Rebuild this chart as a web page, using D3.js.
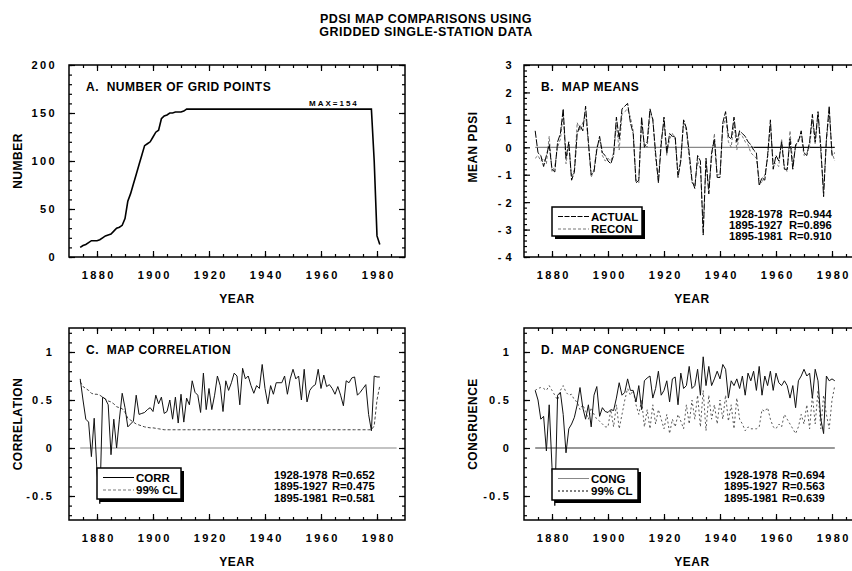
<!DOCTYPE html>
<html><head><meta charset="utf-8">
<script src="https://cdn.jsdelivr.net/npm/d3@7"></script>
<style>
body{margin:0;background:#fff}
svg{display:block}
text{font-family:"Liberation Sans",Arial,Helvetica,sans-serif;font-weight:bold;fill:#000}
</style>
</head><body>
<svg id="c" width="852" height="571"></svg>
<script>
// ---------- DATA ----------
const years = d3.range(1874, 1982); // 1874..1981
const titleLines = ["PDSI MAP COMPARISONS USING", "GRIDDED SINGLE-STATION DATA"];

// A. number of grid points (1874..1981)
const gridPoints = [10,12,13,15,17,17,17,18,20,22,23,24,27,30,31,33,40,58,66,76,86,96,106,116,118,120,125,130,132,144,147,148,150,150,151,151,151,152,154,
154,154,154,154,154,154,154,154,154,154,154,
154,154,154,154,154,154,154,154,154,154,154,
154,154,154,154,154,154,154,154,154,154,154,
154,154,154,154,154,154,154,154,154,154,154,
154,154,154,154,154,154,154,154,154,154,154,
154,154,154,154,154,154,154,154,154,154,154,
100,22,13];

// B. map means
const meanActual = [0.6,-0.2,-0.3,-0.7,-0.3,0.1,-0.8,-0.9,0.2,0.5,1.4,-0.4,0.2,-1.2,-0.9,0.5,0.8,0.6,1.5,0.2,-1.0,-0.9,-0.1,0.4,-0.2,-0.3,-0.5,-0.6,-0.3,1.1,0.3,1.4,1.5,1.6,0.9,0.5,-1.3,-1.2,1.1,0.0,0.2,1.4,1.0,-0.2,-1.3,0.1,1.1,-0.2,0.5,0.4,0.4,-1.1,-0.5,1.0,0.7,-0.2,-1.2,-1.5,-0.3,-0.5,-3.2,-0.4,-1.7,-0.2,0.3,-1.1,-1.1,0.9,1.3,0.4,0.3,1.1,0.2,0.6,0.5,0.4,0.2,0.1,-0.1,-0.2,-1.4,-1.1,-1.2,-0.3,1.0,-0.8,-0.3,-0.5,0.2,-0.8,-0.8,0.3,-0.8,0.1,0.2,0.6,-0.2,-0.3,0.2,1.2,0.2,1.3,0.0,-1.8,0.3,1.5,-0.3,-0.2];
const meanRecon = [-0.4,-0.3,-0.5,-0.4,-0.6,0.4,-0.9,-0.7,0.0,0.3,1.2,-0.6,0.1,-1.1,-0.8,0.9,0.6,0.9,1.2,0.1,-1.1,-0.8,0.0,0.3,-0.3,-0.5,-0.4,-0.5,-0.2,0.8,-0.1,1.2,1.3,1.4,1.1,0.6,-1.2,-1.3,0.9,0.1,0.0,1.2,1.1,-0.4,-1.2,0.3,0.9,-0.3,0.3,0.5,0.3,-1.0,-0.4,0.9,0.6,-0.4,-1.3,-1.4,-0.5,-0.8,-2.9,-0.6,-1.5,-0.4,0.5,-1.0,-1.0,0.7,1.1,0.2,0.0,0.9,-0.1,0.5,0.4,0.2,0.1,-0.2,-0.3,-0.4,-1.2,-1.3,-1.0,-0.4,0.8,-0.6,-0.6,-0.7,0.3,-0.7,-0.9,0.6,-0.6,0.0,0.3,0.4,-0.3,-0.2,0.0,1.0,0.1,1.2,-0.2,-1.5,0.2,1.3,-0.2,-0.5];
const statsB = [["1928-1978","R=0.944"],["1895-1927","R=0.896"],["1895-1981","R=0.910"]];

// C. map correlation
const corr = [0.72,0.50,0.30,0.27,-0.09,0.31,-0.25,-0.58,0.53,0.51,0.45,-0.07,0.30,0.00,0.30,0.57,0.42,0.22,0.25,0.28,0.55,0.35,0.36,0.37,0.40,0.42,0.38,0.55,0.46,0.53,0.36,0.38,0.50,0.30,0.53,0.26,0.56,0.27,0.52,0.45,0.70,0.58,0.55,0.37,0.78,0.40,0.62,0.40,0.55,0.75,0.65,0.38,0.70,0.60,0.68,0.78,0.75,0.45,0.83,0.72,0.75,0.65,0.57,0.65,0.62,0.87,0.62,0.46,0.65,0.56,0.68,0.68,0.68,0.75,0.56,0.72,0.82,0.72,0.75,0.50,0.82,0.48,0.60,0.64,0.66,0.82,0.62,0.76,0.64,0.66,0.62,0.56,0.64,0.55,0.44,0.70,0.68,0.73,0.74,0.55,0.58,0.62,0.66,0.35,0.18,0.75,0.74,0.74];
const corrCL = [0.69,0.64,0.62,0.60,0.57,0.56,0.56,0.55,0.53,0.51,0.49,0.48,0.46,0.43,0.42,0.41,0.37,0.31,0.29,0.27,0.25,0.24,0.23,0.22,0.215,0.21,0.21,0.205,0.20,0.195,0.19,0.19,0.19,0.19,0.19,0.19,0.19,0.19,0.19,0.19,0.19,0.19,0.19,0.19,0.19,0.19,0.19,0.19,0.19,0.19,0.19,0.19,0.19,0.19,0.19,0.19,0.19,0.19,0.19,0.19,0.19,0.19,0.19,0.19,0.19,0.19,0.19,0.19,0.19,0.19,0.19,0.19,0.19,0.19,0.19,0.19,0.19,0.19,0.19,0.19,0.19,0.19,0.19,0.19,0.19,0.19,0.19,0.19,0.19,0.19,0.19,0.19,0.19,0.19,0.19,0.19,0.19,0.19,0.19,0.19,0.19,0.19,0.19,0.19,0.19,0.23,0.50,0.65];
const statsC = [["1928-1978","R=0.652"],["1895-1927","R=0.475"],["1895-1981","R=0.581"]];

// D. map congruence
const cong = [0.60,0.50,0.30,0.33,-0.03,0.45,-0.20,-0.60,0.55,0.58,0.35,-0.05,0.20,0.25,0.32,0.45,0.63,0.42,0.30,0.45,0.22,0.55,0.64,0.33,0.42,0.38,0.37,0.40,0.39,0.52,0.68,0.55,0.58,0.72,0.60,0.60,0.48,0.65,0.40,0.70,0.73,0.75,0.52,0.62,0.80,0.55,0.60,0.70,0.48,0.72,0.74,0.45,0.78,0.62,0.65,0.85,0.62,0.65,0.82,0.55,0.95,0.65,0.85,0.65,0.72,0.80,0.72,0.87,0.82,0.52,0.70,0.65,0.72,0.62,0.75,0.55,0.78,0.70,0.80,0.60,0.85,0.55,0.75,0.65,0.80,0.60,0.78,0.68,0.65,0.70,0.65,0.52,0.65,0.42,0.70,0.75,0.82,0.75,0.78,0.52,0.82,0.70,0.30,0.15,0.75,0.70,0.72,0.70];
const congCL = [0.60,0.62,0.63,0.62,0.60,0.65,0.60,0.55,0.50,0.60,0.65,0.58,0.55,0.56,0.50,0.48,0.40,0.45,0.38,0.30,0.42,0.35,0.30,0.28,0.25,0.22,0.22,0.40,0.22,0.45,0.20,0.35,0.50,0.62,0.55,0.60,0.45,0.35,0.50,0.22,0.40,0.20,0.45,0.25,0.40,0.30,0.20,0.35,0.15,0.30,0.22,0.35,0.28,0.20,0.45,0.25,0.50,0.30,0.55,0.22,0.60,0.18,0.55,0.30,0.45,0.25,0.50,0.30,0.55,0.28,0.45,0.20,0.52,0.30,0.25,0.18,0.22,0.20,0.20,0.20,0.22,0.40,0.38,0.42,0.30,0.22,0.20,0.25,0.22,0.35,0.30,0.25,0.20,0.15,0.22,0.35,0.25,0.45,0.20,0.55,0.25,0.60,0.20,0.55,0.35,0.20,0.50,0.65];
const statsD = [["1928-1978","R=0.694"],["1895-1927","R=0.563"],["1895-1981","R=0.639"]];

// ---------- DRAW ----------
const svg = d3.select("#c");
svg.append("rect").attr("width",852).attr("height",571).attr("fill","#fff");

svg.selectAll("text.title").data(titleLines).enter().append("text")
  .attr("class","title")
  .attr("x",426).attr("y",(d,i)=>22.5+i*13).attr("text-anchor","middle")
  .attr("font-size",12.5).attr("letter-spacing",0.45).text(d=>d);

function panel(o){
  const g = svg.append("g");
  const x = d3.scaleLinear().domain([1870,1990]).range([o.left,o.left+336]);
  const y = d3.scaleLinear().domain(o.yDomain).range([o.bottom,o.top]);
  const xr = x.range(), yr = y.range();
  const cid = "clip"+o.id;
  svg.append("clipPath").attr("id",cid).append("rect")
    .attr("x",xr[0]).attr("y",yr[1]).attr("width",xr[1]-xr[0]).attr("height",yr[0]-yr[1]);

  const minorX = d3.range(1875,1990,5), majorX = d3.range(1880,1990,20);
  const addAxis = (axis, tf) => {
    const a = g.append("g").attr("transform",tf).call(axis);
    a.select(".domain").remove();
    a.selectAll(".tick line").attr("stroke","#000").attr("stroke-width",1.2);
    return a;
  };
  addAxis(d3.axisBottom(x).tickValues(minorX).tickSize(-3).tickFormat(""),`translate(0,${o.bottom})`);
  addAxis(d3.axisTop(x).tickValues(minorX).tickSize(-3).tickFormat(""),`translate(0,${o.top})`);
  addAxis(d3.axisTop(x).tickValues(majorX).tickSize(-6).tickFormat(""),`translate(0,${o.top})`);
  const bx = addAxis(d3.axisBottom(x).tickValues(majorX).tickSize(-6).tickPadding(14).tickFormat(d3.format("d")),`translate(0,${o.bottom})`);
  bx.selectAll("text").attr("font-size",11).attr("letter-spacing",2.4).attr("dx",1.2)
    .attr("font-family",'"Liberation Sans",Arial,sans-serif').attr("font-weight","bold").attr("fill","#000");

  addAxis(d3.axisLeft(y).tickValues(o.yMinor).tickSize(-3).tickFormat(""),`translate(${o.left},0)`);
  addAxis(d3.axisRight(y).tickValues(o.yMinor).tickSize(-3).tickFormat(""),`translate(${xr[1]},0)`);
  addAxis(d3.axisRight(y).tickValues(o.yMajor).tickSize(-6).tickFormat(""),`translate(${xr[1]},0)`);
  const ly = addAxis(d3.axisLeft(y).tickValues(o.yMajor).tickSize(-6).tickPadding(o.labPad).tickFormat(o.yFmt),`translate(${o.left},0)`);
  ly.selectAll("text").attr("font-size",11).attr("letter-spacing",o.yLs).attr("dy","0.35em")
    .attr("font-family",'"Liberation Sans",Arial,sans-serif').attr("font-weight","bold").attr("fill","#000");

  g.append("rect").attr("x",xr[0]).attr("y",yr[1]).attr("width",xr[1]-xr[0]).attr("height",yr[0]-yr[1])
    .attr("fill","none").attr("stroke","#000").attr("stroke-width",1.5);

  g.append("text").attr("x",(xr[0]+xr[1])/2).attr("y",o.bottom+46).attr("text-anchor","middle")
    .attr("font-size",12).attr("letter-spacing",0.6).text("YEAR");
  g.append("text").attr("transform",`translate(${o.yTitleX},${o.yTitleY}) rotate(-90)`)
    .attr("text-anchor","middle").attr("dy","0.35em").attr("font-size",12).attr("letter-spacing",0.5).text(o.yTitle);

  g.append("text").attr("x",o.left+17).attr("y",o.top+26).attr("font-size",12).attr("letter-spacing",0.5)
    .style("white-space","pre").text(o.title);

  const plot = g.append("g").attr("clip-path",`url(#${cid})`);
  return {g, plot, x, y};
}

const lineFn = (x,y,vals) => d3.line().x((d,i)=>x(years[i])).y(d=>y(d))(vals);

function legend(g, bx, by, bw, bh, items){
  g.append("rect").attr("x",bx+3).attr("y",by+3).attr("width",bw).attr("height",bh).attr("fill","#000");
  g.append("rect").attr("x",bx).attr("y",by).attr("width",bw).attr("height",bh).attr("fill","#fff")
    .attr("stroke","#000").attr("stroke-width",1.5);
  items.forEach((it,i)=>{
    const yy = by + 9.5 + i*12.5;
    g.append("line").attr("x1",bx+6).attr("x2",bx+37).attr("y1",yy).attr("y2",yy)
      .attr("stroke",it.color).attr("stroke-width",1).attr("stroke-dasharray",it.dash||null);
    g.append("text").attr("x",bx+39).attr("y",yy+4).attr("font-size",11.5).text(it.label);
  });
}
function stats(g, x1, x2, y0, rows){
  rows.forEach((r,i)=>{
    g.append("text").attr("x",x1).attr("y",y0+i*11.3).attr("font-size",11.2).text(r[0]);
    g.append("text").attr("x",x2).attr("y",y0+i*11.3).attr("font-size",11.2).text(r[1]);
  });
}

// Panel A
{
  const p = panel({id:"A",left:69,top:65,bottom:257,yDomain:[0,200],
    yMajor:[0,50,100,150,200], yMinor:d3.range(0,201,10), yFmt:d3.format("d"), yLs:2.4, labPad:12,
    yTitle:"NUMBER", yTitleX:18, yTitleY:161, title:"A.  NUMBER OF GRID POINTS"});
  p.plot.append("path").attr("d",lineFn(p.x,p.y,gridPoints)).attr("fill","none")
    .attr("stroke","#000").attr("stroke-width",1.6);
  p.g.append("text").attr("x",309).attr("y",p.y(154)-3.5).attr("font-size",8).attr("letter-spacing",2).text("MAX=154");
}
// Panel B
{
  const p = panel({id:"B",left:524,top:65,bottom:257,yDomain:[-4,3],
    yMajor:d3.range(-4,4,1), yMinor:d3.range(-4,3.01,0.2), yFmt:d=>d<0?"- "+(-d):String(d), yLs:0.5, labPad:12,
    yTitle:"MEAN PDSI", yTitleX:473, yTitleY:147, title:"B.  MAP MEANS"});
  p.plot.append("line").attr("x1",p.x(1874)).attr("x2",p.x(1952)).attr("y1",p.y(0)).attr("y2",p.y(0))
    .attr("stroke","#888").attr("stroke-width",1.2);
  p.plot.append("line").attr("x1",p.x(1952)).attr("x2",p.x(1981)).attr("y1",p.y(0)).attr("y2",p.y(0))
    .attr("stroke","#111").attr("stroke-width",1.2);
  p.plot.append("path").attr("d",lineFn(p.x,p.y,meanRecon)).attr("fill","none")
    .attr("stroke","#777").attr("stroke-width",1).attr("stroke-dasharray","3,2");
  p.plot.append("path").attr("d",lineFn(p.x,p.y,meanActual)).attr("fill","none")
    .attr("stroke","#000").attr("stroke-width",1).attr("stroke-dasharray","7,1.5");
  legend(p.g,552,207,90,29,[{label:"ACTUAL",color:"#000",dash:"5,1.5"},{label:"RECON",color:"#777",dash:"3,2"}]);
  stats(p.g,729,789,217.5,statsB);
}
// Panel C
{
  const p = panel({id:"C",left:69,top:328,bottom:520,yDomain:[-0.75,1.25],
    yMajor:[-0.5,0,0.5,1], yMinor:d3.range(-0.7,1.21,0.1).map(v=>+v.toFixed(2)), yFmt:d=>String(d), yLs:2.2, labPad:15,
    yTitle:"CORRELATION", yTitleX:18, yTitleY:424, title:"C.  MAP CORRELATION"});
  p.plot.append("line").attr("x1",p.x(1874)).attr("x2",p.x(1987)).attr("y1",p.y(0)).attr("y2",p.y(0))
    .attr("stroke","#888").attr("stroke-width",1.2);
  p.plot.append("path").attr("d",lineFn(p.x,p.y,corrCL)).attr("fill","none")
    .attr("stroke","#444").attr("stroke-width",1).attr("stroke-dasharray","3,2");
  p.plot.append("path").attr("d",lineFn(p.x,p.y,corr)).attr("fill","none")
    .attr("stroke","#111").attr("stroke-width",1);
  legend(p.g,97,468,84,31,[{label:"CORR",color:"#000"},{label:"99% CL",color:"#777",dash:"3,2"}]);
  stats(p.g,274,332,479,statsC);
}
// Panel D
{
  const p = panel({id:"D",left:524,top:328,bottom:520,yDomain:[-0.75,1.25],
    yMajor:[-0.5,0,0.5,1], yMinor:d3.range(-0.7,1.21,0.1).map(v=>+v.toFixed(2)), yFmt:d=>String(d), yLs:2.2, labPad:13,
    yTitle:"CONGRUENCE", yTitleX:473, yTitleY:424, title:"D.  MAP CONGRUENCE"});
  p.plot.append("line").attr("x1",p.x(1874)).attr("x2",p.x(1981)).attr("y1",p.y(0)).attr("y2",p.y(0))
    .attr("stroke","#333").attr("stroke-width",1.2);
  p.plot.append("path").attr("d",lineFn(p.x,p.y,congCL)).attr("fill","none")
    .attr("stroke","#444").attr("stroke-width",0.9).attr("stroke-dasharray","2,2.5");
  p.plot.append("path").attr("d",lineFn(p.x,p.y,cong)).attr("fill","none")
    .attr("stroke","#111").attr("stroke-width",1);
  legend(p.g,552,469,86,31,[{label:"CONG",color:"#888"},{label:"99% CL",color:"#000",dash:"2,2"}]);
  stats(p.g,724,782,479,statsD);
}
</script>
</body></html>
